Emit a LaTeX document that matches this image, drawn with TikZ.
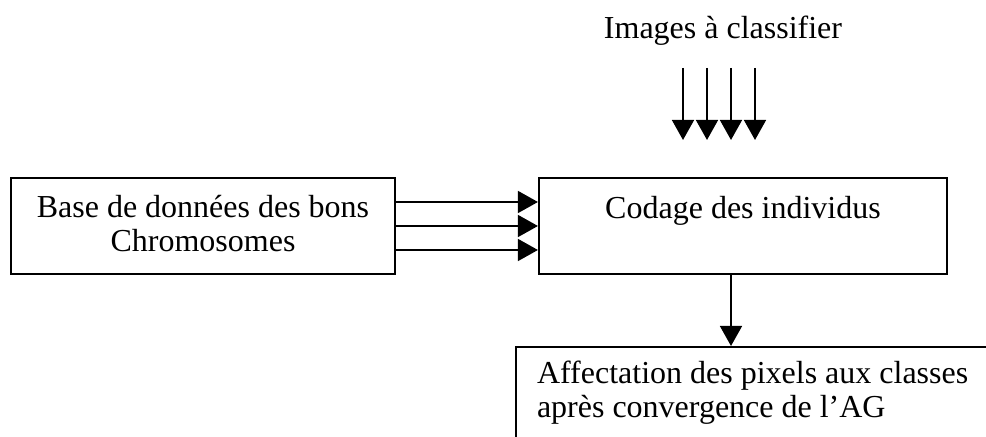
\documentclass[tikz,border=0pt]{standalone}
\usepackage{fontspec}
\setmainfont{Liberation Serif}
\usetikzlibrary{arrows.meta}

\tikzset{
  boite/.style={draw, line width=0.8pt, inner sep=0pt},
  texte/.style={inner sep=0pt, font=\fontsize{12pt}{12.75pt}\selectfont},
}

\begin{document}
\begin{tikzpicture}[x=0.375pt, y=-0.375pt, line width=0.75pt,
  >={Triangle[length=7.5pt, width=8.2pt]}]
\useasboundingbox (0,0) rectangle (986,437);
\clip (0,0) rectangle (986,437);

% les boites
\node[boite, minimum width=144pt, minimum height=36pt] (base) at (203,226) {};
\node[boite, minimum width=153pt, minimum height=36pt] (codage) at (743,226) {};
\node[boite, anchor=north west, minimum width=225pt, minimum height=60pt] (affect) at (515,346) {};

% les textes
\node[texte, anchor=base, align=center] (basetxt) at (203,252) {Base de données des bons\\Chromosomes};
\node[texte, anchor=base] (codagetxt) at (743,219) {Codage des individus};
\node[texte, anchor=base west, align=left] (affecttxt) at (536,417.5) {Affectation des pixels aux classes\\après convergence de l’AG};
\node[texte, anchor=base] (images) at (723,39) {Images à classifier};

% les fleches
\foreach \s in {9,0,-9}
  \draw[->] ([yshift=\s pt]base.east) -- ([yshift=\s pt]codage.west);

\foreach \x [count=\i] in {683,707,731,755}
{
  \coordinate (haut\i) at (\x,68);
  \coordinate (bas\i) at (\x,140);
  \draw[->] (haut\i) -- (bas\i);
}

\coordinate (sortie) at (731,300);
\draw[->] (codage.south -| sortie) -- (affect.north -| sortie);

\end{tikzpicture}
\end{document}
